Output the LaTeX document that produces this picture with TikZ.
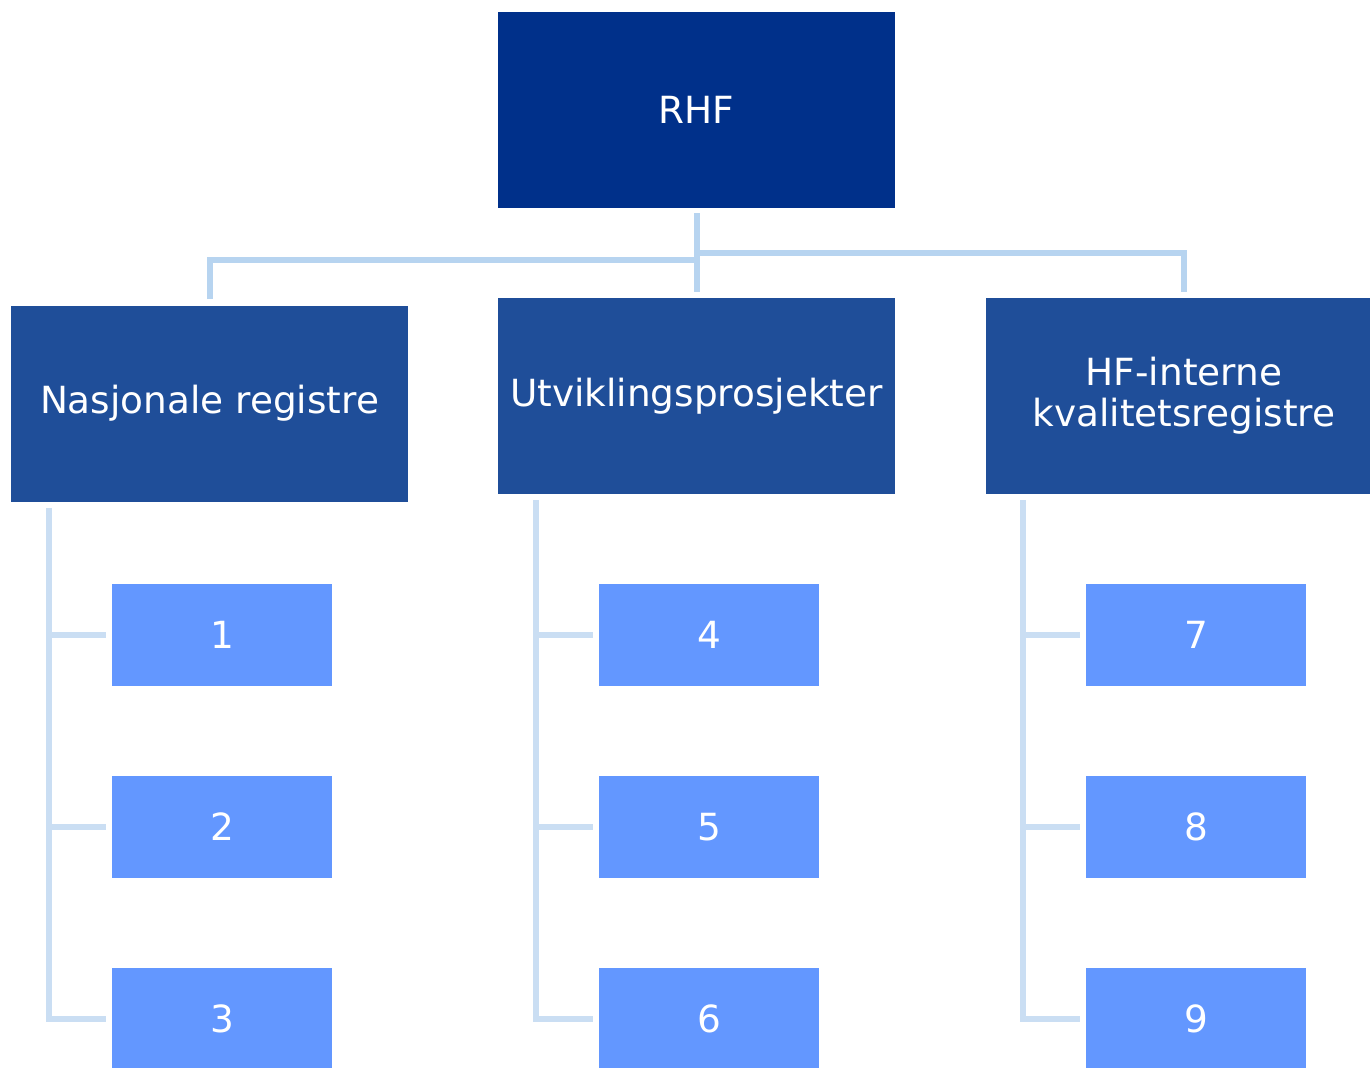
\documentclass[tikz,border=0pt]{standalone}
\usepackage{fontspec}
\setmainfont{DejaVu Sans}
\usepackage{tikz}
\usetikzlibrary{positioning,calc}
\definecolor{rhfblue}{RGB}{0,48,138}
\definecolor{groupblue}{RGB}{31,78,153}
\definecolor{itemblue}{RGB}{99,151,255}
\definecolor{linetop}{RGB}{183,212,240}
\definecolor{linelow}{RGB}{202,222,243}
\tikzset{
topbox/.style = {fill=rhfblue, rectangle, align=center, text=white, minimum width=198.5pt, minimum height=98pt, inner sep=0pt},
groupbox/.style = {fill=groupblue, rectangle, align=center, text=white, minimum width=198.5pt, minimum height=98pt, inner sep=0pt},
itembox/.style = {fill=itemblue, rectangle, align=center, text=white, minimum width=110pt, minimum height=51pt, inner sep=0pt},
conn/.style = {draw=linetop, line width=3pt},
connlow/.style = {draw=linelow, line width=3pt}
}

\begin{document}
\begin{tikzpicture}[auto, font=\fontsize{18.7}{20.5}\selectfont]
    \clip (0,0) rectangle (685pt,-533.5pt);
    \node [topbox, name=rhf] at (348.25pt,-55pt) {RHF};
    \node [groupbox, name=utv, below of = rhf, node distance = 143pt] {Utviklingsprosjekter};
    \node [groupbox, name=nas, left of = utv, node distance = 243.5pt, yshift=-3.75pt] {Nasjonale registre};
    \node [groupbox, name=hf, right of = utv, node distance = 243.75pt] {HF-interne\\kvalitetsregistre};

    \node [itembox, name=i4, below of = utv, node distance = 119.5pt, xshift=6.25pt] {4};
    \node [itembox, name=i5, below of = i4, node distance = 96pt] {5};
    \node [itembox, name=i6, below of = i5, node distance = 96pt] {6};
    \node [itembox, name=i1, left of = i4, node distance = 243.5pt] {1};
    \node [itembox, name=i2, below of = i1, node distance = 96pt] {2};
    \node [itembox, name=i3, below of = i2, node distance = 96pt] {3};
    \node [itembox, name=i7, right of = i4, node distance = 243.5pt] {7};
    \node [itembox, name=i8, below of = i7, node distance = 96pt] {8};
    \node [itembox, name=i9, below of = i8, node distance = 96pt] {9};

    \coordinate (c1) at ($(nas.south west)+(19pt,-3pt)$);
    \coordinate (c2) at ($(utv.south west)+(19pt,-3pt)$);
    \coordinate (c3) at ($(hf.south west)+(19pt,-3pt)$);

    \draw [conn] ($(rhf.south)+(0,-2.5pt)$) -- ($(utv.north)+(0,3pt)$);
    \draw [conn] ($(nas.north)+(0,3pt)$) |- ($(rhf.south)+(0,-26pt)$);
    \draw [conn] ($(hf.north)+(0,3pt)$) |- ($(rhf.south)+(0,-22.5pt)$);

    \draw [connlow] (c1) |- ($(i3.west)+(-3pt,0)$);
    \draw [connlow] ($(i1.west)+(-3pt,0)$) -- (i1.west -| c1);
    \draw [connlow] ($(i2.west)+(-3pt,0)$) -- (i2.west -| c1);
    \draw [connlow] (c2) |- ($(i6.west)+(-3pt,0)$);
    \draw [connlow] ($(i4.west)+(-3pt,0)$) -- (i4.west -| c2);
    \draw [connlow] ($(i5.west)+(-3pt,0)$) -- (i5.west -| c2);
    \draw [connlow] (c3) |- ($(i9.west)+(-3pt,0)$);
    \draw [connlow] ($(i7.west)+(-3pt,0)$) -- (i7.west -| c3);
    \draw [connlow] ($(i8.west)+(-3pt,0)$) -- (i8.west -| c3);
\end{tikzpicture}
\end{document}
